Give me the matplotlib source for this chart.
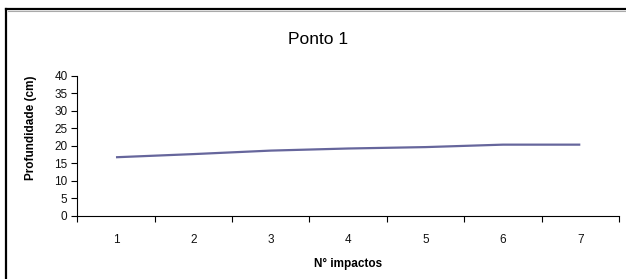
import matplotlib
matplotlib.use("Agg")
import matplotlib.pyplot as plt
from matplotlib.lines import Line2D
from matplotlib.ticker import FixedLocator, NullFormatter

plt.rcParams['font.family'] = ['Liberation Sans', 'DejaVu Sans']

impactos = [1, 2, 3, 4, 5, 6, 7]
profundidade = [16.7, 17.6, 18.6, 19.2, 19.6, 20.3, 20.3]
yticks = [0, 5, 10, 15, 20, 25, 30, 35, 40]

fig = plt.figure(figsize=(6.26, 2.79), dpi=100)
ax = fig.add_axes([77.3/626, 1-215.7/279, (619-77.3)/626, (215.7-75.7)/279])

ax.plot(impactos, profundidade, color='#66669c', lw=1.6, solid_capstyle='butt')

ax.set_xlim(0.5, 7.5)
ax.set_ylim(0, 40)
ax.set_yticks(yticks)
ax.set_yticklabels([str(v) for v in yticks], fontsize=8.5, color='#111111')
ax.set_xticks(impactos)
ax.set_xticklabels([str(v) for v in impactos], fontsize=8.5, color='#111111')
ax.tick_params(axis='x', which='major', length=0, pad=13)
ax.xaxis.set_minor_locator(FixedLocator([i + 0.5 for i in range(0, 8)]))
ax.xaxis.set_minor_formatter(NullFormatter())
ax.tick_params(axis='x', which='minor', length=4, direction='out', width=0.8)
ax.tick_params(axis='y', length=4, direction='out', width=0.8, pad=3)

for s in ['top', 'right']:
    ax.spines[s].set_visible(False)
for s in ['left', 'bottom']:
    ax.spines[s].set_linewidth(0.8)

ax.set_xlabel('N° impactos', fontsize=8.5, fontweight='bold')
ax.xaxis.set_label_coords(348/541.7 - 77.3/541.7, -(258-215.7)/140)
ax.set_ylabel('Profundidade (cm)', fontsize=8.5, fontweight='bold')
ax.yaxis.set_label_coords(-(77.3-37)/541.7, (215.7-128)/140)

fig.text(318/626, 1-39/279, 'Ponto 1', ha='center', va='center', fontsize=12.5)

# outer chart border (top and left)
fig.add_artist(Line2D([6/626, 1.0], [1-9/279, 1-9/279], color='black', lw=1.6, transform=fig.transFigure))
fig.add_artist(Line2D([6/626, 6/626], [0, 1-9/279], color='black', lw=1.6, transform=fig.transFigure))
fig.add_artist(Line2D([7.5/626, 1.0], [1-10.5/279, 1-10.5/279], color='#aaaaaa', lw=0.8, transform=fig.transFigure))

fig.savefig('out.png', dpi=100)
